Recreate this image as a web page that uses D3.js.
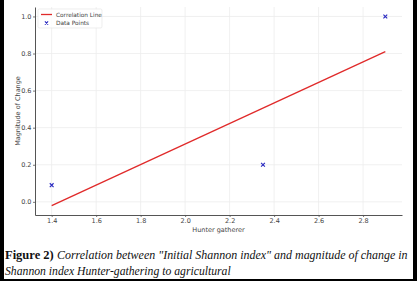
<!DOCTYPE html>
<html>
<head>
<meta charset="utf-8">
<script src="https://cdn.jsdelivr.net/npm/d3@7"></script>
<style>
  body { margin: 0; background: #fff; }
  #frame { position: relative; width: 417px; height: 281px; overflow: hidden; }
  .caption { font-family: "Liberation Serif", serif; font-size: 12.5px; fill: #111; }
</style>
</head>
<body>
<div id="frame"></div>
<script>
// data
const pointsX = [1.4, 2.35, 2.9];
const pointsY = [0.09, 0.2, 1.0];
const lineX = [1.4, 2.9];
const lineY = [-0.02, 0.81];
const xTicks = [1.4, 1.6, 1.8, 2.0, 2.2, 2.4, 2.6, 2.8];
const yTicks = [0.0, 0.2, 0.4, 0.6, 0.8, 1.0];
const legendLabels = ["Correlation Line", "Data Points"];

const width = 417, height = 281;
const margin = { top: 7, right: 15, bottom: 66, left: 35 };

const svg = d3.select("#frame").append("svg")
  .attr("width", width)
  .attr("height", height);

const x = d3.scaleLinear()
  .domain([1.325, 2.975])
  .range([margin.left, width - margin.right]);

const y = d3.scaleLinear()
  .domain([-0.071, 1.051])
  .range([height - margin.bottom, margin.top]);

// grid
svg.append("g")
  .selectAll("line")
  .data(xTicks)
  .enter().append("line")
  .attr("x1", d => x(d)).attr("x2", d => x(d))
  .attr("y1", margin.top).attr("y2", height - margin.bottom)
  .attr("stroke", "#ececec").attr("stroke-width", 0.8);

svg.append("g")
  .selectAll("line")
  .data(yTicks)
  .enter().append("line")
  .attr("x1", margin.left).attr("x2", width - margin.right)
  .attr("y1", d => y(d)).attr("y2", d => y(d))
  .attr("stroke", "#ececec").attr("stroke-width", 0.8);

// axes
const xAxis = d3.axisBottom(x)
  .tickValues(xTicks)
  .tickFormat(d3.format(".1f"))
  .tickSize(2)
  .tickPadding(1.5)
  .tickSizeOuter(0);

const yAxis = d3.axisLeft(y)
  .tickValues(yTicks)
  .tickFormat(d3.format(".1f"))
  .tickSize(2)
  .tickPadding(1.5)
  .tickSizeOuter(0);

const gx = svg.append("g")
  .attr("transform", `translate(0,${height - margin.bottom})`)
  .call(xAxis);

const gy = svg.append("g")
  .attr("transform", `translate(${margin.left},0)`)
  .call(yAxis);

[gx, gy].forEach(g => {
  g.select(".domain").attr("stroke", "#555").attr("stroke-width", 1);
  g.selectAll(".tick line").attr("stroke", "#555").attr("stroke-width", 0.8);
  g.selectAll(".tick text")
    .attr("fill", "#444")
    .style("font-family", "DejaVu Sans, sans-serif")
    .style("font-size", "6.5px");
});

svg.append("text")
  .attr("text-anchor", "middle")
  .attr("x", (margin.left + width - margin.right) / 2)
  .attr("y", 231.5)
  .attr("fill", "#444")
  .style("font-family", "DejaVu Sans, sans-serif")
  .style("font-size", "6.5px")
  .text("Hunter gatherer");

svg.append("text")
  .attr("text-anchor", "middle")
  .attr("transform", `translate(19.5,${(margin.top + height - margin.bottom) / 2}) rotate(-90)`)
  .attr("fill", "#444")
  .style("font-family", "DejaVu Sans, sans-serif")
  .style("font-size", "6.5px")
  .text("Magnitude of Change");

// correlation line
svg.append("line")
  .attr("x1", x(lineX[0])).attr("y1", y(lineY[0]))
  .attr("x2", x(lineX[1])).attr("y2", y(lineY[1]))
  .attr("stroke", "#e02a2a")
  .attr("stroke-width", 1.3);

// points as x markers
const ms = 1.9;
svg.append("g")
  .selectAll("path")
  .data(pointsX.map((d, i) => [d, pointsY[i]]))
  .enter().append("path")
  .attr("d", d => {
    const cx = x(d[0]), cy = y(d[1]);
    return `M${cx - ms},${cy - ms}L${cx + ms},${cy + ms}M${cx - ms},${cy + ms}L${cx + ms},${cy - ms}`;
  })
  .attr("stroke", "#2828c0")
  .attr("stroke-width", 1.1);

// legend
const lg = svg.append("g").attr("transform", "translate(38,9)");
lg.append("rect")
  .attr("width", 64).attr("height", 19)
  .attr("fill", "#fff").attr("fill-opacity", 0.85)
  .attr("stroke", "#e2e2e2").attr("stroke-width", 0.6).attr("rx", 1.5);
lg.append("line")
  .attr("x1", 3).attr("x2", 14).attr("y1", 5.5).attr("y2", 5.5)
  .attr("stroke", "#e02a2a").attr("stroke-width", 1.3);
lg.append("path")
  .attr("d", `M${8.5 - 1.6},${14 - 1.6}L${8.5 + 1.6},${14 + 1.6}M${8.5 - 1.6},${14 + 1.6}L${8.5 + 1.6},${14 - 1.6}`)
  .attr("stroke", "#2828c0").attr("stroke-width", 1.1);
lg.selectAll("text")
  .data(legendLabels)
  .enter().append("text")
  .attr("x", 18)
  .attr("y", (d, i) => 7.8 + i * 8.5)
  .attr("fill", "#444")
  .style("font-family", "DejaVu Sans, sans-serif")
  .style("font-size", "5.8px")
  .text(d => d);

// caption: shrink the font until each line fits its width
function fitText(sel, target) {
  const w = sel.node().getComputedTextLength();
  if (w > target) {
    const fs = parseFloat(getComputedStyle(sel.node()).fontSize);
    sel.style("font-size", (fs * target / w) + "px");
  }
}

svg.append("text").attr("class", "caption").attr("x", 5).attr("y", 259)
  .attr("font-weight", "bold")
  .text("Figure 2)");
const cap1 = svg.append("text").attr("class", "caption").attr("x", 57).attr("y", 259)
  .attr("font-style", "italic")
  .text("Correlation between \"Initial Shannon index\" and magnitude of change in");
fitText(cap1, 351);

const cap2 = svg.append("text").attr("class", "caption").attr("x", 5).attr("y", 275)
  .attr("font-style", "italic")
  .text("Shannon index Hunter-gathering to agricultural");
fitText(cap2, 226);

// black frame (left, right, bottom)
svg.append("rect").attr("x", 0).attr("y", 0).attr("width", 4).attr("height", height).attr("fill", "#000");
svg.append("rect").attr("x", width - 4).attr("y", 0).attr("width", 4).attr("height", height).attr("fill", "#000");
svg.append("rect").attr("x", 0).attr("y", height - 2).attr("width", width).attr("height", 2).attr("fill", "#000");
</script>
</body>
</html>
